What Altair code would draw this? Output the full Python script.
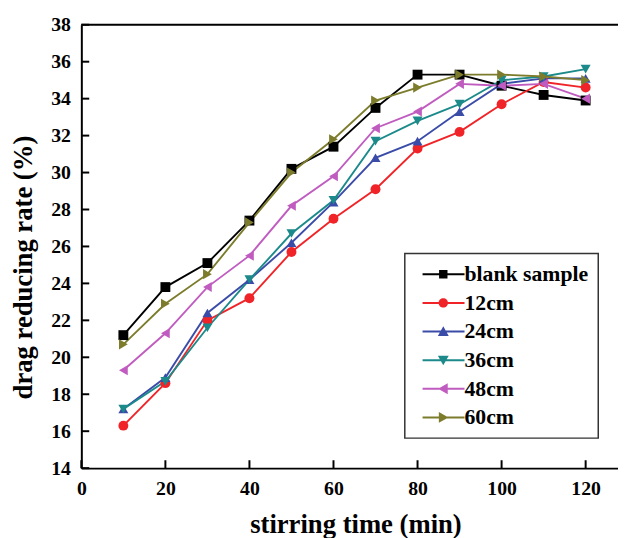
import altair as alt
import pandas as pd

# ---------------- data ----------------
times = [10, 20, 30, 40, 50, 60, 70, 80, 90, 100, 110, 120]
series_names = ["blank sample", "12cm", "24cm", "36cm", "48cm", "60cm"]
blank = [21.2, 23.8, 25.1, 27.4, 30.2, 31.4, 33.5, 35.3, 35.3, 34.7, 34.2, 33.9]
cm12 = [16.3, 18.6, 22.0, 23.2, 25.7, 27.5, 29.1, 31.3, 32.2, 33.7, 34.9, 34.6]
cm24 = [17.2, 18.9, 22.4, 24.2, 26.2, 28.4, 30.8, 31.7, 33.3, 34.8, 35.1, 35.1]
cm36 = [17.2, 18.7, 21.6, 24.2, 26.7, 28.5, 31.7, 32.8, 33.7, 35.0, 35.2, 35.6]
cm48 = [19.3, 21.3, 23.8, 25.5, 28.2, 29.8, 32.4, 33.3, 34.8, 34.7, 34.8, 34.0]
cm60 = [20.7, 22.9, 24.5, 27.3, 30.0, 31.8, 33.9, 34.6, 35.3, 35.3, 35.2, 35.0]
x_ticks = [0, 20, 40, 60, 80, 100, 120]
y_ticks = [14, 16, 18, 20, 22, 24, 26, 28, 30, 32, 34, 36, 38]

colors = ["#000000", "#f02428", "#3a4ca8", "#1c8a8a", "#c05cc0", "#7c7c2c"]
shapes = ["square", "circle", "triangle-up", "triangle-down", "triangle-left", "triangle-right"]
sizes = [100, 105, 170, 170, 170, 170]

LINE = "M-4.2,-0.2H4.3V0.2H-4.2Z"
legend_paths = [
    LINE + "M-0.85,-0.85H0.85V0.85H-0.85Z",
    LINE + "M0.95,0A0.95,0.95 0 1,1 -0.95,0A0.95,0.95 0 1,1 0.95,0Z",
    LINE + "M0,-1.05L1.1,0.9H-1.1Z",
    LINE + "M-1.1,-0.9H1.1L0,1.05Z",
    LINE + "M-1.05,0L0.9,-1.1V1.1Z",
    LINE + "M1.05,0L-0.9,1.1V-1.1Z",
]

rows = []
for name, vals in zip(series_names, [blank, cm12, cm24, cm36, cm48, cm60]):
    for t, v in zip(times, vals):
        rows.append({"t": t, "rate": v, "series": name})
df = pd.DataFrame(rows)

# ---------------- layout ----------------
W = 543.7
H = 449.2
FONT = "Liberation Serif"

x_scale = alt.Scale(domain=[0, 127.7], nice=False, zero=False)
y_scale = alt.Scale(domain=[14, 38], nice=False, zero=False)
color_scale = alt.Scale(domain=series_names, range=colors)
shape_scale = alt.Scale(domain=series_names, range=shapes)
size_scale = alt.Scale(domain=series_names, range=sizes)

x_axis = alt.Axis(
    values=x_ticks, ticks=False, grid=False, labelFlush=False,
    labelFont=FONT, labelFontSize=20, labelFontWeight="bold", labelColor="black",
    labelPadding=11, domainColor="black", domainWidth=2,
    title="stirring time (min)", titleFont=FONT, titleFontSize=27,
    titleFontWeight="bold", titleColor="black",
    titleX=277.7, titleY=65.5, titleBaseline="alphabetic",
)
y_axis = alt.Axis(
    values=y_ticks, ticks=False, grid=False, labelFlush=False,
    labelFont=FONT, labelFontSize=20, labelFontWeight="bold", labelColor="black",
    labelPadding=11, domainColor="black", domainWidth=2,
    title="drag reducing rate (%)", titleFont=FONT, titleFontSize=27,
    titleFontWeight="bold", titleColor="black",
    titleX=-58.3, titleY=245.5, titleBaseline="middle", titleAngle=270,
)

X = alt.X("t:Q", scale=x_scale, axis=x_axis)
Y = alt.Y("rate:Q", scale=y_scale, axis=y_axis)

lines = alt.Chart(df).mark_line(strokeWidth=1.9).encode(
    x=X, y=Y,
    color=alt.Color("series:N", scale=color_scale, legend=None),
)

points = alt.Chart(df).mark_point(filled=True, opacity=1).encode(
    x=X, y=Y,
    color=alt.Color("series:N", scale=color_scale, legend=None),
    shape=alt.Shape("series:N", scale=shape_scale, legend=None),
    size=alt.Size("series:O", scale=size_scale, legend=None),
)

leg = alt.Legend(
    title=None, orient="none", legendX=327.7, legendY=231.8,
    symbolSize=100, symbolStrokeWidth=0, symbolOffset=18, labelOffset=10.5,
    labelFont=FONT, labelFontSize=22, labelFontWeight="bold", labelColor="black",
    labelLimit=300, padding=10, rowPadding=7,
    strokeColor="#333333", fillColor="white", symbolOpacity=1,
)
legend_layer = alt.Chart(df).transform_filter("datum.t > 1000").mark_point(
    filled=True, opacity=1
).encode(
    x=X, y=Y,
    color=alt.Color("series:N", scale=color_scale, legend=leg),
    shape=alt.Shape("series:N", scale=alt.Scale(domain=series_names, range=legend_paths), legend=leg),
)

xt = pd.DataFrame({"t": x_ticks})
yt = pd.DataFrame({"rate": y_ticks})
x_tick_layer = alt.Chart(xt).mark_rule(color="black", strokeWidth=2).encode(
    x=X, y=alt.value(H), y2=alt.value(H - 8)
)
y_tick_layer = alt.Chart(yt).mark_rule(color="black", strokeWidth=2).encode(
    y=Y, x=alt.value(0), x2=alt.value(8)
)
top_border = alt.Chart(pd.DataFrame({"k": [0]})).mark_rule(color="black", strokeWidth=2).encode(
    x=alt.value(0), x2=alt.value(W), y=alt.value(0)
)

chart = alt.layer(
    lines, points, x_tick_layer, y_tick_layer, top_border, legend_layer
).resolve_scale(
    color="independent", shape="independent"
).properties(
    width=W, height=H,
    padding={"left": 74.3, "top": 13.5, "right": 0, "bottom": 67.3},
    autosize=alt.AutoSizeParams(type="none"),
    background="white",
).configure(
    font=FONT
).configure_view(
    stroke=None
).configure_axis(
    labelFont=FONT, titleFont=FONT
).configure_legend(
    strokeWidth=1.5, labelFont=FONT
)

chart.save("out.html", embed_options={"renderer": "svg", "actions": False})
